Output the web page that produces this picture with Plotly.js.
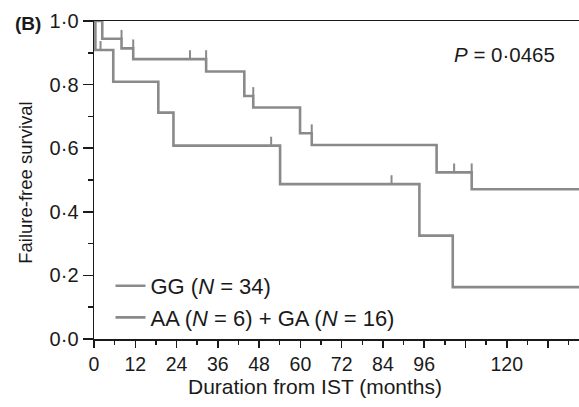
<!DOCTYPE html>
<html>
<head>
<meta charset="utf-8">
<script src="https://cdn.plot.ly/plotly-3.0.1.min.js"></script>
<style>html,body{margin:0;padding:0;background:#fff;}#chart{width:579px;height:407px;}</style>
</head>
<body>
<div id="chart"></div>
<script>
// Step points (months, survival)
const ggTime = [0, 2.4, 8.0, 11.4, 32.6, 43.7, 46.3, 59.9, 63.3, 99.6, 109.8, 141];
const ggSurv = [1.0, 0.944, 0.914, 0.880, 0.841, 0.764, 0.728, 0.647, 0.610, 0.524, 0.471, 0.471];
const ggCensorTime = [8.0, 11.4, 27.9, 32.6, 46.3, 63.3, 104.7, 109.8];
const ggCensorSurv = [0.944, 0.914, 0.880, 0.880, 0.764, 0.647, 0.524, 0.524];

const agTime = [0, 0.4, 5.6, 18.7, 23.1, 54.1, 94.6, 104.3, 141];
const agSurv = [1.0, 0.909, 0.809, 0.712, 0.608, 0.487, 0.325, 0.163, 0.163];
const agCensorTime = [1.9, 51.5, 86.5];
const agCensorSurv = [0.909, 0.608, 0.487];

const xTickVals = [0, 12, 24, 36, 48, 60, 72, 84, 96, 108, 120, 132];
const xTickText = ['0', '12', '24', '36', '48', '60', '72', '84', '96', '', '120', ''];
const yTickVals = [0, 0.2, 0.4, 0.6, 0.8, 1.0];
const yTickText = ['0·0', '0·2', '0·4', '0·6', '0·8', '1·0'];

const gray = '#8a8a8a';
const ink = '#1a1a1a';
const fontFam = 'Liberation Sans, Arial, sans-serif';

function censorTrace(xs, ys) {
  return {
    x: xs, y: ys, type: 'scatter', mode: 'markers', showlegend: false,
    marker: {size: 1, color: 'rgba(0,0,0,0)'},
    error_y: {type: 'constant', value: 0.028, symmetric: false, valueminus: 0,
              width: 0, thickness: 2, color: gray},
    hoverinfo: 'skip', cliponaxis: false
  };
}

const data = [
  {x: ggTime, y: ggSurv, type: 'scatter', mode: 'lines', line: {shape: 'hv', color: gray, width: 2.6},
   name: 'GG (<i>N</i> = 34)'},
  {x: agTime, y: agSurv, type: 'scatter', mode: 'lines', line: {shape: 'hv', color: gray, width: 2.6},
   name: 'AA (<i>N</i> = 6) + GA (<i>N</i> = 16)'},
  censorTrace(ggCensorTime, ggCensorSurv),
  censorTrace(agCensorTime, agCensorSurv)
];

const layout = {
  width: 579, height: 407,
  margin: {l: 94, r: 0, t: 21, b: 68},
  paper_bgcolor: '#fff', plot_bgcolor: '#fff',
  font: {family: fontFam, size: 19, color: ink},
  showlegend: true,
  legend: {x: 0.034, y: 0.0, xanchor: 'left', yanchor: 'bottom', bgcolor: 'rgba(0,0,0,0)',
           font: {size: 22, color: ink}, tracegroupgap: 0, itemwidth: 30},
  xaxis: {
    range: [0, 141], showgrid: false, zeroline: false,
    showline: true, linecolor: ink, linewidth: 1.5, mirror: true,
    ticks: 'outside', ticklen: 7, tickwidth: 1.5, tickcolor: ink,
    tickmode: 'array', tickvals: xTickVals, ticktext: xTickText,
    tickfont: {size: 19.5, color: ink},
    minor: {tickmode: 'linear', tick0: 0, dtick: 6, ticks: 'outside', ticklen: 4, tickwidth: 1.5, tickcolor: ink},
    automargin: false
  },
  yaxis: {
    range: [0, 1.0], showgrid: false, zeroline: false,
    showline: true, linecolor: ink, linewidth: 1.5,
    ticks: 'outside', ticklen: 10, tickwidth: 1.5, tickcolor: ink,
    tickmode: 'array', tickvals: yTickVals, ticktext: yTickText,
    tickfont: {size: 20, color: ink},
    minor: {tickmode: 'linear', tick0: 0, dtick: 0.1, ticks: 'outside', ticklen: 5, tickwidth: 1.5, tickcolor: ink},
    automargin: false
  },
  annotations: [
    {text: 'Duration from IST (months)', xref: 'paper', yref: 'paper', x: 0.455, y: -0.148,
     xanchor: 'center', yanchor: 'middle', showarrow: false, font: {size: 21, color: ink}},
    {text: 'Failure-free survival', xref: 'paper', yref: 'paper', x: -0.141, y: 0.49, textangle: -90,
     xanchor: 'center', yanchor: 'middle', showarrow: false, font: {size: 18.5, color: ink}},
    {text: '<b>(B)</b>', xref: 'paper', yref: 'paper', x: -0.168, y: 0.993, xanchor: 'left', yanchor: 'middle',
     showarrow: false, font: {size: 19, color: ink}},
    {text: '<i>P</i> = 0·0465', xref: 'paper', yref: 'paper', x: 0.955, y: 0.895, xanchor: 'right', yanchor: 'middle',
     showarrow: false, font: {size: 20.5, color: ink}}
  ]
};

Plotly.newPlot('chart', data, layout, {displayModeBar: false, staticPlot: true});
</script>
</body>
</html>
